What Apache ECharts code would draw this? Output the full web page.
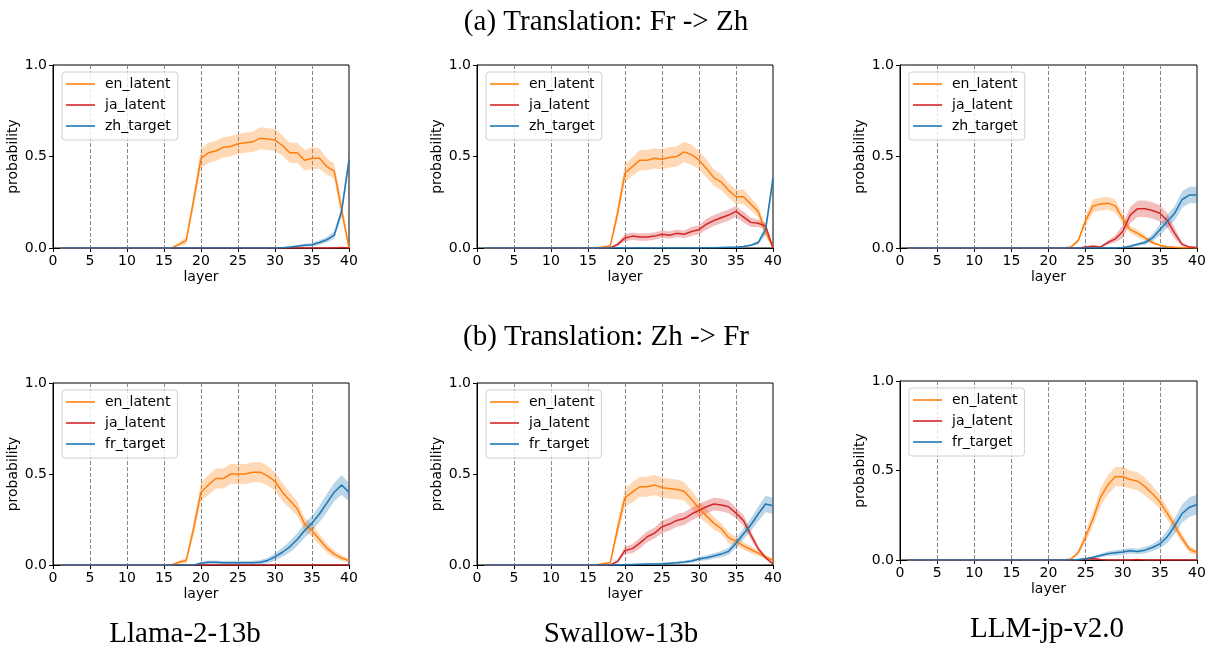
<!DOCTYPE html>
<html>
<head>
<meta charset="utf-8">
<script src="https://cdn.jsdelivr.net/npm/echarts@6/dist/echarts.min.js"></script>
<style>
  html, body { margin: 0; padding: 0; background: #fff; }
  #chart { width: 1215px; height: 649px; }
</style>
</head>
<body>
<div id="chart"></div>
<script>
// x axis runs 0..40; the data covers layers 1..40
const xCategories = ['0','1','2','3','4','5','6','7','8','9','10','11','12','13','14','15','16','17','18','19','20','21','22','23','24','25','26','27','28','29','30','31','32','33','34','35','36','37','38','39','40'];
const yTicks = ['0.0', '0.5', '1.0'];

// (a) Fr -> Zh, Llama-2-13b
const llamaFrZhEn = [0,0,0,0,0,0,0,0,0,0,0,0,0,0,0,0,0.02,0.04,0.26,0.49,0.52,0.53,0.55,0.555,0.57,0.575,0.58,0.6,0.595,0.59,0.56,0.52,0.52,0.48,0.49,0.49,0.445,0.42,0.21,0];
const llamaFrZhEnErr = [0,0,0,0,0,0,0,0,0,0,0,0,0,0,0,0,0.01,0.02,0.04,0.055,0.055,0.055,0.055,0.055,0.055,0.055,0.055,0.06,0.06,0.06,0.055,0.055,0.055,0.055,0.06,0.055,0.045,0.04,0.05,0];
const llamaFrZhJa = [0,0,0,0,0,0,0,0,0,0,0,0,0,0,0,0,0,0,0,0,0,0,0,0,0,0,0,0,0,0,0,0,0,0,0,0,0,0,0.003,0];
const llamaFrZhJaErr = [0,0,0,0,0,0,0,0,0,0,0,0,0,0,0,0,0,0,0,0,0,0,0,0,0,0,0,0,0,0,0,0,0,0,0,0,0,0,0.002,0];
const llamaFrZhTgt = [0,0,0,0,0,0,0,0,0,0,0,0,0,0,0,0,0,0,0,0,0,0,0,0,0,0,0,0,0,0,0.002,0.005,0.01,0.015,0.018,0.03,0.045,0.07,0.2,0.48];
const llamaFrZhTgtErr = [0,0,0,0,0,0,0,0,0,0,0,0,0,0,0,0,0,0,0,0,0,0,0,0,0,0,0,0,0,0,0.002,0.004,0.006,0.008,0.01,0.012,0.015,0.02,0.03,0.04];

// (a) Fr -> Zh, Swallow-13b
const swallowFrZhEn = [0,0,0,0,0,0,0,0,0,0,0,0,0,0,0,0,0.005,0.01,0.19,0.41,0.445,0.48,0.48,0.49,0.485,0.495,0.5,0.525,0.51,0.48,0.435,0.385,0.36,0.315,0.28,0.28,0.24,0.2,0.09,0];
const swallowFrZhEnErr = [0,0,0,0,0,0,0,0,0,0,0,0,0,0,0,0,0.005,0.01,0.04,0.05,0.05,0.055,0.055,0.055,0.055,0.055,0.055,0.055,0.055,0.05,0.05,0.045,0.045,0.04,0.04,0.04,0.035,0.03,0.03,0];
const swallowFrZhJa = [0,0,0,0,0,0,0,0,0,0,0,0,0,0,0,0,0,0,0.02,0.055,0.065,0.06,0.06,0.065,0.075,0.07,0.08,0.075,0.09,0.1,0.13,0.15,0.165,0.18,0.2,0.17,0.14,0.135,0.12,0];
const swallowFrZhJaErr = [0,0,0,0,0,0,0,0,0,0,0,0,0,0,0,0,0,0,0.01,0.02,0.02,0.02,0.02,0.02,0.02,0.02,0.02,0.02,0.025,0.025,0.03,0.03,0.03,0.03,0.03,0.03,0.025,0.02,0.02,0];
const swallowFrZhTgt = [0,0,0,0,0,0,0,0,0,0,0,0,0,0,0,0,0,0,0,0,0,0,0,0,0,0,0,0,0,0,0.001,0.002,0.003,0.004,0.005,0.008,0.015,0.03,0.1,0.38];
const swallowFrZhTgtErr = [0,0,0,0,0,0,0,0,0,0,0,0,0,0,0,0,0,0,0,0,0,0,0,0,0,0,0,0,0,0,0.001,0.001,0.002,0.002,0.003,0.004,0.006,0.01,0.03,0.04];

// (a) Fr -> Zh, LLM-jp-v2.0
const llmjpFrZhEn = [0,0,0,0,0,0,0,0,0,0,0,0,0,0,0,0,0,0,0,0,0,0,0.005,0.04,0.15,0.23,0.24,0.245,0.23,0.16,0.1,0.08,0.055,0.03,0.015,0.007,0.004,0.002,0.001,0];
const llmjpFrZhEnErr = [0,0,0,0,0,0,0,0,0,0,0,0,0,0,0,0,0,0,0,0,0,0,0.003,0.01,0.03,0.035,0.035,0.035,0.035,0.03,0.02,0.02,0.015,0.01,0.005,0.003,0.002,0.001,0.001,0];
const llmjpFrZhJa = [0,0,0,0,0,0,0,0,0,0,0,0,0,0,0,0,0,0,0,0,0,0,0,0,0.005,0.01,0.005,0.03,0.05,0.09,0.18,0.215,0.215,0.205,0.19,0.15,0.08,0.02,0.005,0.003];
const llmjpFrZhJaErr = [0,0,0,0,0,0,0,0,0,0,0,0,0,0,0,0,0,0,0,0,0,0,0,0,0.005,0.005,0.005,0.01,0.02,0.035,0.045,0.045,0.045,0.045,0.045,0.04,0.03,0.01,0.005,0.003];
const llmjpFrZhTgt = [0,0,0,0,0,0,0,0,0,0,0,0,0,0,0,0,0,0,0,0,0,0,0,0,0,0,0,0,0,0.003,0.01,0.02,0.03,0.055,0.1,0.145,0.19,0.265,0.29,0.29];
const llmjpFrZhTgtErr = [0,0,0,0,0,0,0,0,0,0,0,0,0,0,0,0,0,0,0,0,0,0,0,0,0,0,0,0,0,0.002,0.005,0.008,0.012,0.02,0.03,0.035,0.04,0.045,0.045,0.045];

// (b) Zh -> Fr, Llama-2-13b
const llamaZhFrEn = [0,0,0,0,0,0,0,0,0,0,0,0,0,0,0,0,0.015,0.025,0.2,0.4,0.44,0.475,0.475,0.5,0.5,0.5,0.51,0.51,0.49,0.46,0.4,0.355,0.31,0.225,0.19,0.14,0.093,0.06,0.038,0.024];
const llamaZhFrEnErr = [0,0,0,0,0,0,0,0,0,0,0,0,0,0,0,0,0.01,0.015,0.04,0.05,0.055,0.055,0.055,0.055,0.055,0.055,0.055,0.055,0.055,0.05,0.05,0.045,0.04,0.035,0.035,0.03,0.025,0.02,0.015,0.01];
const llamaZhFrJa = [0,0,0,0,0,0,0,0,0,0,0,0,0,0,0,0,0,0,0,0,0,0,0,0,0,0,0,0,0,0,0,0,0,0,0,0,0,0,0,0];
const llamaZhFrJaErr = [0,0,0,0,0,0,0,0,0,0,0,0,0,0,0,0,0,0,0,0,0,0,0,0,0,0,0,0,0,0,0,0,0,0,0,0,0,0,0,0];
const llamaZhFrTgt = [0,0,0,0,0,0,0,0,0,0,0,0,0,0,0,0,0,0,0,0.01,0.015,0.015,0.012,0.013,0.013,0.012,0.013,0.015,0.025,0.045,0.07,0.1,0.14,0.19,0.23,0.28,0.34,0.4,0.44,0.4];
const llamaZhFrTgtErr = [0,0,0,0,0,0,0,0,0,0,0,0,0,0,0,0,0,0,0,0.008,0.01,0.01,0.01,0.01,0.01,0.01,0.01,0.012,0.015,0.02,0.025,0.03,0.035,0.04,0.04,0.045,0.05,0.05,0.055,0.05];

// (b) Zh -> Fr, Swallow-13b
const swallowZhFrEn = [0,0,0,0,0,0,0,0,0,0,0,0,0,0,0,0,0.007,0.012,0.2,0.37,0.4,0.43,0.43,0.44,0.425,0.42,0.415,0.405,0.36,0.31,0.27,0.23,0.2,0.15,0.13,0.105,0.085,0.065,0.045,0.025];
const swallowZhFrEnErr = [0,0,0,0,0,0,0,0,0,0,0,0,0,0,0,0,0.005,0.008,0.04,0.05,0.055,0.055,0.055,0.055,0.055,0.055,0.055,0.05,0.05,0.045,0.04,0.035,0.03,0.03,0.025,0.02,0.02,0.015,0.012,0.01];
const swallowZhFrJa = [0,0,0,0,0,0,0,0,0,0,0,0,0,0,0,0,0,0,0.02,0.08,0.09,0.12,0.155,0.175,0.21,0.225,0.245,0.255,0.28,0.3,0.32,0.335,0.33,0.32,0.285,0.245,0.165,0.09,0.04,0.005];
const swallowZhFrJaErr = [0,0,0,0,0,0,0,0,0,0,0,0,0,0,0,0,0,0,0.01,0.02,0.025,0.03,0.03,0.03,0.035,0.035,0.035,0.035,0.035,0.035,0.035,0.035,0.035,0.035,0.03,0.03,0.025,0.015,0.01,0.005];
const swallowZhFrTgt = [0,0,0,0,0,0,0,0,0,0,0,0,0,0,0,0,0,0,0,0.002,0.003,0.004,0.005,0.006,0.007,0.009,0.012,0.016,0.022,0.033,0.04,0.05,0.06,0.075,0.12,0.17,0.22,0.28,0.335,0.325];
const swallowZhFrTgtErr = [0,0,0,0,0,0,0,0,0,0,0,0,0,0,0,0,0,0,0,0.003,0.003,0.004,0.004,0.005,0.005,0.006,0.007,0.008,0.01,0.012,0.014,0.015,0.017,0.02,0.025,0.03,0.035,0.04,0.045,0.045];

// (b) Zh -> Fr, LLM-jp-v2.0
const llmjpZhFrEn = [0,0,0,0,0,0,0,0,0,0,0,0,0,0,0,0,0,0,0,0,0,0,0.005,0.04,0.13,0.23,0.35,0.42,0.465,0.465,0.45,0.44,0.41,0.37,0.325,0.26,0.19,0.12,0.06,0.042];
const llmjpZhFrEnErr = [0,0,0,0,0,0,0,0,0,0,0,0,0,0,0,0,0,0,0,0,0,0,0.003,0.01,0.03,0.04,0.05,0.055,0.055,0.055,0.05,0.05,0.05,0.045,0.04,0.035,0.03,0.025,0.02,0.015];
const llmjpZhFrJa = [0,0,0,0,0,0,0,0,0,0,0,0,0,0,0,0,0,0,0,0,0,0,0,0,0.005,0.008,0.003,0,0,0,0,0.003,0,0,0,0,0,0,0,0];
const llmjpZhFrJaErr = [0,0,0,0,0,0,0,0,0,0,0,0,0,0,0,0,0,0,0,0,0,0,0,0,0.004,0.005,0.003,0,0,0,0,0.002,0,0,0,0,0,0,0,0];
const llmjpZhFrTgt = [0,0,0,0,0,0,0,0,0,0,0,0,0,0,0,0,0,0,0,0,0,0,0,0.003,0.007,0.015,0.025,0.035,0.04,0.045,0.052,0.048,0.055,0.07,0.09,0.13,0.19,0.26,0.295,0.31];
const llmjpZhFrTgtErr = [0,0,0,0,0,0,0,0,0,0,0,0,0,0,0,0,0,0,0,0,0,0,0,0.002,0.004,0.006,0.01,0.012,0.015,0.015,0.015,0.015,0.018,0.02,0.025,0.035,0.045,0.05,0.055,0.055];

const ORANGE = '#ff7f0e', RED = '#d62728', BLUE = '#1f77b4';
const BANDS = { [ORANGE]: 'rgba(255,127,14,0.3)', [RED]: 'rgba(214,39,40,0.3)', [BLUE]: 'rgba(31,119,180,0.3)' };

const panels = [
  { left: 53, top: 65, width: 296, height: 183, target: 'zh_target',
    lines: [[llamaFrZhEn, llamaFrZhEnErr], [llamaFrZhJa, llamaFrZhJaErr], [llamaFrZhTgt, llamaFrZhTgtErr]] },
  { left: 477, top: 65, width: 296, height: 183, target: 'zh_target',
    lines: [[swallowFrZhEn, swallowFrZhEnErr], [swallowFrZhJa, swallowFrZhJaErr], [swallowFrZhTgt, swallowFrZhTgtErr]] },
  { left: 900, top: 65, width: 297, height: 183, target: 'zh_target',
    lines: [[llmjpFrZhEn, llmjpFrZhEnErr], [llmjpFrZhJa, llmjpFrZhJaErr], [llmjpFrZhTgt, llmjpFrZhTgtErr]] },
  { left: 53, top: 383, width: 296, height: 182, target: 'fr_target',
    lines: [[llamaZhFrEn, llamaZhFrEnErr], [llamaZhFrJa, llamaZhFrJaErr], [llamaZhFrTgt, llamaZhFrTgtErr]] },
  { left: 477, top: 383, width: 296, height: 182, target: 'fr_target',
    lines: [[swallowZhFrEn, swallowZhFrEnErr], [swallowZhFrJa, swallowZhFrJaErr], [swallowZhFrTgt, swallowZhFrTgtErr]] },
  { left: 900, top: 381, width: 297, height: 179, target: 'fr_target',
    lines: [[llmjpZhFrEn, llmjpZhFrEnErr], [llmjpZhFrJa, llmjpZhFrJaErr], [llmjpZhFrTgt, llmjpZhFrTgtErr]] }
];

const FONT = 'DejaVu Sans';
const SERIF = 'Liberation Serif';

let grids = [], xAxes = [], yAxes = [], legends = [], series = [];

panels.forEach((p, i) => {
  grids.push({ left: p.left, top: p.top, width: p.width, height: p.height,
    show: true, borderColor: '#000', borderWidth: 1, backgroundColor: 'transparent' });

  xAxes.push({
    gridIndex: i, type: 'category', data: xCategories, boundaryGap: false,
    name: 'layer', nameLocation: 'middle', nameGap: 22,
    nameTextStyle: { fontFamily: FONT, fontSize: 14, color: '#000' },
    axisLine: { lineStyle: { color: '#000', width: 1 } },
    axisTick: { show: true, interval: 4, length: 4, lineStyle: { color: '#000' } },
    axisLabel: { interval: 4, fontFamily: FONT, fontSize: 14, color: '#000', margin: 6 },
    splitLine: { show: true, interval: 4, showMinLine: false, showMaxLine: false,
      lineStyle: { color: '#888', type: [4, 2], width: 1 } }
  });
  yAxes.push({
    gridIndex: i, type: 'value', min: 0, max: 1, interval: 0.5,
    name: 'probability', nameLocation: 'middle', nameGap: 28, nameRotate: 90,
    nameTextStyle: { fontFamily: FONT, fontSize: 14, color: '#000' },
    axisLine: { show: true, lineStyle: { color: '#000', width: 1 } },
    axisTick: { show: true, length: 4, lineStyle: { color: '#000' } },
    axisLabel: { fontFamily: FONT, fontSize: 14, color: '#000', margin: 6,
      formatter: v => yTicks[Math.round(v * 2)] },
    splitLine: { show: false }
  });

  const names = ['en_latent', 'ja_latent', p.target];
  const colors = [ORANGE, RED, BLUE];

  legends.push({
    left: p.left + 9, top: p.top + 7, orient: 'vertical',
    backgroundColor: 'rgba(255,255,255,0.8)', borderColor: '#d0d0d0', borderWidth: 1, borderRadius: 3,
    padding: [5, 7, 7, 4], itemGap: 7, itemWidth: 29, itemHeight: 2, icon: 'rect',
    itemStyle: { opacity: 0.8 },
    textStyle: { fontFamily: FONT, fontSize: 14, color: '#000', padding: [0, 0, 0, 5] },
    selectedMode: false,
    data: names
  });

  p.lines.forEach(([vals, errs], k) => {
    const stack = 'band' + i + '_' + k;
    // no value at layer 0
    const lower = [null].concat(vals.map((v, j) => Math.max(0, v - errs[j])));
    const spread = [null].concat(vals.map((v, j) => v + errs[j] - Math.max(0, v - errs[j])));
    series.push({
      type: 'line', xAxisIndex: i, yAxisIndex: i, stack: stack, data: lower,
      symbol: 'none', silent: true, lineStyle: { opacity: 0 }, z: 1
    });
    series.push({
      type: 'line', xAxisIndex: i, yAxisIndex: i, stack: stack, data: spread,
      symbol: 'none', silent: true, lineStyle: { opacity: 0 },
      areaStyle: { color: BANDS[colors[k]], opacity: 1 }, z: 1
    });
    series.push({
      name: names[k], type: 'line', xAxisIndex: i, yAxisIndex: i,
      data: [null].concat(vals),
      symbol: 'none', color: colors[k], lineStyle: { color: colors[k], width: 1.5 }, z: 3
    });
  });
});

const labelText = (text, x, y) => ({
  type: 'text', x: x, y: y,
  style: { text: text, fontFamily: SERIF, fontSize: 29, fill: '#000', align: 'center', verticalAlign: 'middle' }
});

const option = {
  animation: false,
  backgroundColor: '#fff',
  grid: grids,
  xAxis: xAxes,
  yAxis: yAxes,
  legend: legends,
  series: series,
  graphic: [
    labelText('(a) Translation: Fr -> Zh', 606, 22),
    labelText('(b) Translation: Zh -> Fr', 606, 337),
    labelText('Llama-2-13b', 185, 634),
    labelText('Swallow-13b', 621, 634),
    labelText('LLM-jp-v2.0', 1047, 629)
  ]
};

const myChart = echarts.init(document.getElementById('chart'));
myChart.setOption(option);
</script>
</body>
</html>
